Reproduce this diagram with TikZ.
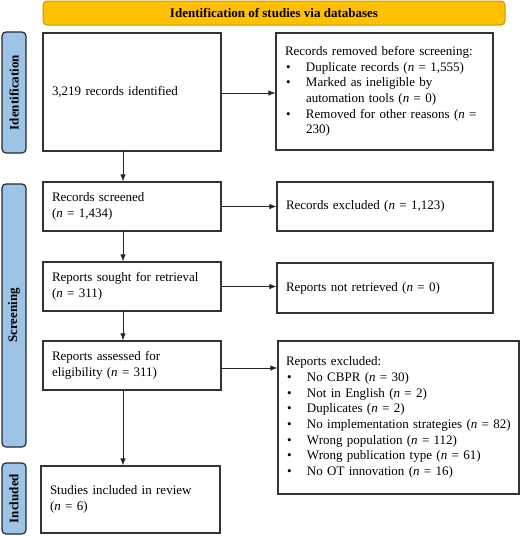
\documentclass[tikz,border=0pt]{standalone}
\usepackage{fontspec}
\setmainfont{Liberation Serif}
\usetikzlibrary{arrows.meta}
\definecolor{banneryellow}{HTML}{FFC000}
\definecolor{bannerborder}{HTML}{C99700}
\definecolor{sideblue}{HTML}{9DC3E6}
\definecolor{sideborder}{HTML}{222A35}
\definecolor{boxborder}{HTML}{333333}
\newcommand\nn{\textit{n}}
\newcommand\bitem[1]{\makebox[21pt][l]{\hspace{1pt}\textbullet}#1}
\newcommand\bcont[1]{\hspace{21pt}#1}
\begin{document}
\begin{tikzpicture}[x=1pt,y=-1pt,
  pbox/.style={draw=boxborder, line width=1.3pt, align=left, inner xsep=9pt, inner ysep=0pt,
    font=\fontsize{13}{15.7}\selectfont, anchor=center},
  sidebox/.style={draw=sideborder, fill=sideblue, line width=1.2pt, rounded corners=4pt,
    font=\fontsize{13}{15}\selectfont\bfseries, rotate=90, inner sep=0pt, minimum height=24pt, anchor=center},
  arr/.style={-{Latex[length=7pt,width=5.5pt]}, line width=0.8pt, draw=black!85}]
\useasboundingbox (0,0) rectangle (520,536);

% banner
\node[draw=bannerborder, fill=banneryellow, line width=1pt, rounded corners=4pt,
  minimum width=462pt, minimum height=24pt, inner sep=0pt,
  font=\fontsize{13}{15}\selectfont\bfseries] (banner) at (274,13) {Identification of studies via databases};

% side labels
\node[sidebox, minimum width=121pt] (sid) at (14,92.5) {Identification};
\node[sidebox, minimum width=263pt] (sscr) at (14,315.5) {Screening};
\node[sidebox, minimum width=71pt] (sinc) at (14,498.5) {Included};

% left column
\node[pbox, minimum width=178pt, text width=160pt, minimum height=118pt] (ident) at (132,92)
  {3,219 records identified};
\node[pbox, minimum width=178pt, text width=160pt, minimum height=49pt] (screened) at (132,206.5)
  {Records screened\\(\nn{} = 1,434)};
\node[pbox, minimum width=178pt, text width=160pt, minimum height=49pt] (sought) at (132,286.5)
  {Reports sought for retrieval\\(\nn{} = 311)};
\node[pbox, minimum width=178pt, text width=160pt, minimum height=49pt] (assessed) at (132,365.5)
  {Reports assessed for\\eligibility (\nn{} = 311)};
\node[pbox, minimum width=179pt, text width=161pt, minimum height=67pt] (included) at (130.5,499.5)
  {Studies included in review\\(\nn{} = 6)};

% right column
\node[pbox, minimum width=217pt, text width=199pt, minimum height=117pt] (removed) at (384.5,91.5)
  {Records removed before screening:\\
   \bitem{Duplicate records (\nn{} = 1,555)}\\
   \bitem{Marked as ineligible by}\\
   \bcont{automation tools (\nn{} = 0)}\\
   \bitem{Removed for other reasons (\nn{} =}\\
   \bcont{230)}};
\node[pbox, minimum width=216pt, text width=198pt, minimum height=49pt] (excluded) at (385,206.5)
  {Records excluded (\nn{} = 1,123)};
\node[pbox, minimum width=216pt, text width=198pt, minimum height=50pt] (notret) at (385,288)
  {Reports not retrieved (\nn{} = 0)};
\node[pbox, minimum width=241pt, text width=225pt, inner xsep=8pt, minimum height=153pt] (excl2) at (398.5,417.5)
  {Reports excluded:\\
   \bitem{No CBPR (\nn{} = 30)}\\
   \bitem{Not in English (\nn{} = 2)}\\
   \bitem{Duplicates (\nn{} = 2)}\\
   \bitem{No implementation strategies (\nn{} = 82)}\\
   \bitem{Wrong population (\nn{} = 112)}\\
   \bitem{Wrong publication type (\nn{} = 61)}\\
   \bitem{No OT innovation (\nn{} = 16)}};

% arrow guides
\coordinate (xa) at (123,0);
\coordinate (ya) at (0,93);
\coordinate (yb) at (0,368);

% arrows
\draw[arr] (ident.east |- ya) -- (removed.west |- ya);
\draw[arr] (ident.south -| xa) -- (screened.north -| xa);
\draw[arr] (screened.east) -- (excluded.west |- screened.east);
\draw[arr] (screened.south -| xa) -- (sought.north -| xa);
\draw[arr] (sought.east) -- (notret.west |- sought.east);
\draw[arr] (sought.south -| xa) -- (assessed.north -| xa);
\draw[arr] (assessed.east |- yb) -- (excl2.west |- yb);
\draw[arr] (assessed.south -| xa) -- (included.north -| xa);
\end{tikzpicture}
\end{document}
